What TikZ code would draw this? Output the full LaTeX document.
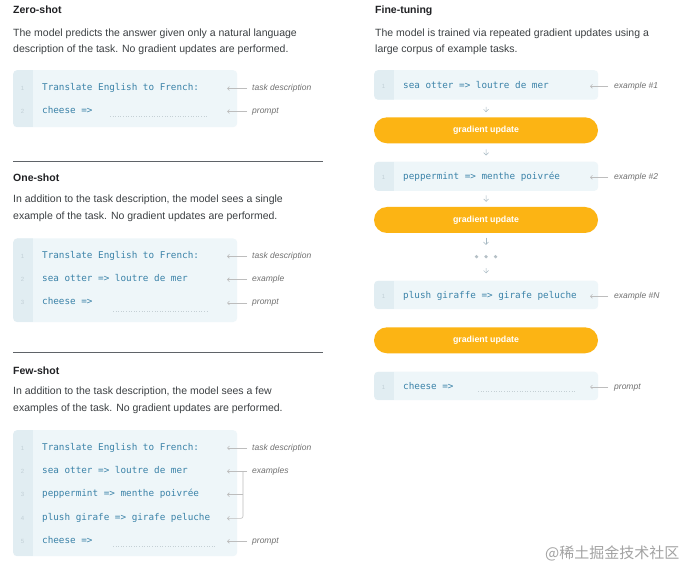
\documentclass[tikz,border=0pt]{standalone}
\usepackage{xcolor}
\usepackage{fontspec}
\setmainfont{Liberation Sans}
\setmonofont{DejaVu Sans Mono}
\newfontfamily\cjkfont{Noto Sans CJK SC}
\usepackage{tikz}
\usetikzlibrary{arrows.meta}
\usetikzlibrary{positioning}
\definecolor{headgray}{HTML}{202124}
\definecolor{descgray}{HTML}{3C4043}
\definecolor{codeblue}{HTML}{3A82A8}
\definecolor{boxblue}{HTML}{EEF6F9}
\definecolor{gutterblue}{HTML}{E1EDF2}
\definecolor{linenogray}{HTML}{C2D0D7}
\definecolor{notegray}{HTML}{707070}
\definecolor{arrowgray}{HTML}{BDBDBD}
\definecolor{gradorange}{HTML}{FCB414}
\definecolor{downgray}{HTML}{A5B8C2}
\definecolor{dotgray}{HTML}{B5C0C6}
\definecolor{blankgray}{HTML}{C5D0D5}
\definecolor{rulegray}{HTML}{5F6368}
\definecolor{markgray}{HTML}{A3A3A3}
\tikzset{
heading/.style = { anchor = base west, inner sep = 0pt, text = headgray, font = \bfseries\fontsize{10.5}{12}\selectfont },
desc/.style = { anchor = base west, inner sep = 0pt, text = descgray, font = \fontsize{10.5}{12}\selectfont },
code box/.style = { rectangle, anchor = north west, fill = boxblue, rounded corners = 4pt, minimum width = 224pt, inner sep = 0pt,
    path picture = {\fill[gutterblue, sharp corners] (path picture bounding box.north west) rectangle ([xshift = 20pt]path picture bounding box.south west);} },
code/.style = { anchor = base west, inner sep = 0pt, text = codeblue, font = \ttfamily\fontsize{9.3}{11}\selectfont },
line no/.style = { anchor = base, inner sep = 0pt, text = linenogray, font = \fontsize{6}{7}\selectfont },
note/.style = { anchor = base west, inner sep = 0pt, text height = 6pt, text depth = 2pt, text = notegray, font = \itshape\fontsize{8.5}{10}\selectfont },
note arrow/.style = { draw = arrowgray, line width = 0.6pt, -{Straight Barb[length = 2pt, width = 4pt]} },
update/.style = { rectangle, fill = gradorange, rounded corners = 13pt, minimum width = 224pt, minimum height = 26pt, inner sep = 0pt, text = white, font = \bfseries\fontsize{8.8}{10}\selectfont },
down arrow/.style = { draw = downgray, line width = 0.5pt, -{Straight Barb[length = 2.5pt, width = 5pt]} },
blank/.style = { draw = blankgray, line width = 0.6pt, dotted },
rule/.style = { draw = rulegray, line width = 0.8pt },
}

\begin{document}
\begin{tikzpicture}[x = 1pt, y = -1pt]
    \useasboundingbox[fill = white] (0,0) rectangle (693,577);
    \coordinate (lefttip) at (227,0);
    \coordinate (righttip) at (590,0);
    \begin{scope}
      \node[heading] (zshead) at (13,14) {Zero-shot};
      \node[desc] (zsdesc1) at (13,36.5) {The model predicts the answer given only a natural language};
      \node[desc] (zsdesc2) at (13,52.5) {description of the task. No gradient updates are performed.};
      \node[code box, minimum height = 57pt] (zsbox) at (13,70) {};
      \node[line no] (zsno1) at (22.5,90.5) {1};
      \node[code] (zsrow1) at (42,90.5) {Translate English to French:};
      \node[line no] (zsno2) at (22.5,113.5) {2};
      \node[code] (zsrow2) at (42,113.5) {cheese =>};
      \draw[blank] (110,116.5) -- (208,116.5);
      \node[note] (zstask) at (252,90.5) {task description};
      \node[note] (zsprompt) at (252,113.5) {prompt};
      \draw[note arrow] ([xshift = -5pt]zstask.west) -- (zstask.west -| lefttip);
      \draw[note arrow] ([xshift = -5pt]zsprompt.west) -- (zsprompt.west -| lefttip);
      \draw[rule] (13,161) -- (323,161);
    \end{scope}
    \begin{scope}
      \node[heading] (oshead) at (13,181.5) {One-shot};
      \node[desc] (osdesc1) at (13,203) {In addition to the task description, the model sees a single};
      \node[desc] (osdesc2) at (13,219.5) {example of the task. No gradient updates are performed.};
      \node[code box, minimum height = 83.5pt] (osbox) at (13,238.3) {};
      \node[line no] (osno1) at (22.5,258.3) {1};
      \node[code] (osrow1) at (42,258.3) {Translate English to French:};
      \node[line no] (osno2) at (22.5,281.7) {2};
      \node[code] (osrow2) at (42,281.7) {sea otter => loutre de mer};
      \node[line no] (osno3) at (22.5,305) {3};
      \node[code] (osrow3) at (42,305) {cheese =>};
      \draw[blank] (113,311) -- (208,311);
      \node[note] (ostask) at (252,258.3) {task description};
      \node[note] (osex) at (252,281.7) {example};
      \node[note] (osprompt) at (252,305) {prompt};
      \draw[note arrow] ([xshift = -5pt]ostask.west) -- (ostask.west -| lefttip);
      \draw[note arrow] ([xshift = -5pt]osex.west) -- (osex.west -| lefttip);
      \draw[note arrow] ([xshift = -5pt]osprompt.west) -- (osprompt.west -| lefttip);
      \draw[rule] (13,352.3) -- (323,352.3);
    \end{scope}
    \begin{scope}
      \node[heading] (fshead) at (13,374) {Few-shot};
      \node[desc] (fsdesc1) at (13,394.3) {In addition to the task description, the model sees a few};
      \node[desc] (fsdesc2) at (13,411) {examples of the task. No gradient updates are performed.};
      \node[code box, minimum height = 126pt] (fsbox) at (13,430) {};
      \node[line no] (fsno1) at (22.5,450) {1};
      \node[code] (fsrow1) at (42,450) {Translate English to French:};
      \node[line no] (fsno2) at (22.5,473.3) {2};
      \node[code] (fsrow2) at (42,473.3) {sea otter => loutre de mer};
      \node[line no] (fsno3) at (22.5,496.7) {3};
      \node[code] (fsrow3) at (42,496.7) {peppermint => menthe poivrée};
      \node[line no] (fsno4) at (22.5,520.3) {4};
      \node[code] (fsrow4) at (42,520.3) {plush girafe => girafe peluche};
      \node[line no] (fsno5) at (22.5,543.3) {5};
      \node[code] (fsrow5) at (42,543.3) {cheese =>};
      \draw[blank] (113,546) -- (215,546);
      \node[note] (fstask) at (252,450) {task description};
      \node[note] (fsex) at (252,473.3) {examples};
      \node[note] (fsprompt) at (252,543.3) {prompt};
      \coordinate (fsbrk2) at ([xshift = -9pt]fsex.west);
      \coordinate (fsbrk3) at (fsbrk2 |- 0,494.7);
      \coordinate (fsbrk4) at (fsbrk2 |- 0,518.3);
      \draw[note arrow] ([xshift = -5pt]fstask.west) -- (fstask.west -| lefttip);
      \draw[note arrow] ([xshift = -5pt]fsex.west) -- (fsex.west -| lefttip);
      \draw[note arrow] (fsbrk3) -- (fsbrk3 -| lefttip);
      \draw[note arrow, rounded corners = 2pt] (fsbrk2) -- (fsbrk4) -- (fsbrk4 -| lefttip);
      \draw[note arrow] ([xshift = -5pt]fsprompt.west) -- (fsprompt.west -| lefttip);
    \end{scope}
    \begin{scope}
      \node[heading] (fthead) at (375,14) {Fine-tuning};
      \node[desc] (ftdesc1) at (375,36.5) {The model is trained via repeated gradient updates using a};
      \node[desc] (ftdesc2) at (375,52.5) {large corpus of example tasks.};
      \node[code box, minimum height = 29.5pt] (ftbox1) at (374,70) {};
      \node[line no] (ftno1) at (383.5,88.3) {1};
      \node[code] (ftrow1) at (403,88.3) {sea otter => loutre de mer};
      \node[update] (ftupd1) at (486,130.3) {gradient update};
      \node[code box, minimum height = 29.2pt] (ftbox2) at (374,161.5) {};
      \node[line no] (ftno2) at (383.5,179.3) {1};
      \node[code] (ftrow2) at (403,179.3) {peppermint => menthe poivrée};
      \node[update] (ftupd2) at (486,220) {gradient update};
      \node[minimum width = 24pt, minimum height = 4pt, inner sep = 0pt] (ftdots) at (486,256.7) {};
      \fill[dotgray] ([xshift = -9.5pt]ftdots.center) circle (1.8pt);
      \fill[dotgray] (ftdots.center) circle (1.8pt);
      \fill[dotgray] ([xshift = 9.5pt]ftdots.center) circle (1.8pt);
      \node[code box, minimum height = 28.5pt] (ftbox3) at (374,280.5) {};
      \node[line no] (ftno3) at (383.5,298.3) {1};
      \node[code] (ftrow3) at (403,298.3) {plush giraffe => girafe peluche};
      \node[update] (ftupd3) at (486,340.3) {gradient update};
      \node[code box, minimum height = 28.5pt] (ftbox4) at (374,371.5) {};
      \node[line no] (ftno4) at (383.5,389) {1};
      \node[code] (ftrow4) at (403,389) {cheese =>};
      \draw[blank] (478,391) -- (576,391);
      \node[note] (ftex1) at (614,88.3) {example \#1};
      \node[note] (ftex2) at (614,179.3) {example \#2};
      \node[note] (ftexn) at (614,298.3) {example \#N};
      \node[note] (ftprompt) at (614,389) {prompt};
      \draw[note arrow] ([xshift = -6pt]ftex1.west) -- (ftex1.west -| righttip);
      \draw[note arrow] ([xshift = -6pt]ftex2.west) -- (ftex2.west -| righttip);
      \draw[note arrow] ([xshift = -6pt]ftexn.west) -- (ftexn.west -| righttip);
      \draw[note arrow] ([xshift = -6pt]ftprompt.west) -- (ftprompt.west -| righttip);
    \end{scope}
    \begin{scope}
      \draw[down arrow, shorten <= 7pt, shorten >= 5pt] (ftbox1) -- (ftupd1);
      \draw[down arrow, shorten <= 6pt, shorten >= 6pt] (ftupd1) -- (ftbox2);
      \draw[down arrow, shorten <= 4.3pt, shorten >= 5pt] (ftbox2) -- (ftupd2);
      \draw[down arrow, shorten <= 4.5pt, shorten >= 9.7pt] (ftupd2) -- (ftdots);
      \draw[down arrow, shorten <= 9.3pt, shorten >= 7.2pt] (ftdots) -- (ftbox3);
    \end{scope}
    \node[anchor = base west, inner sep = 0pt, text = markgray, font = \cjkfont\fontsize{15}{16}\selectfont] (mark) at (545,558.5) {@稀土掘金技术社区};
\end{tikzpicture}
\end{document}
